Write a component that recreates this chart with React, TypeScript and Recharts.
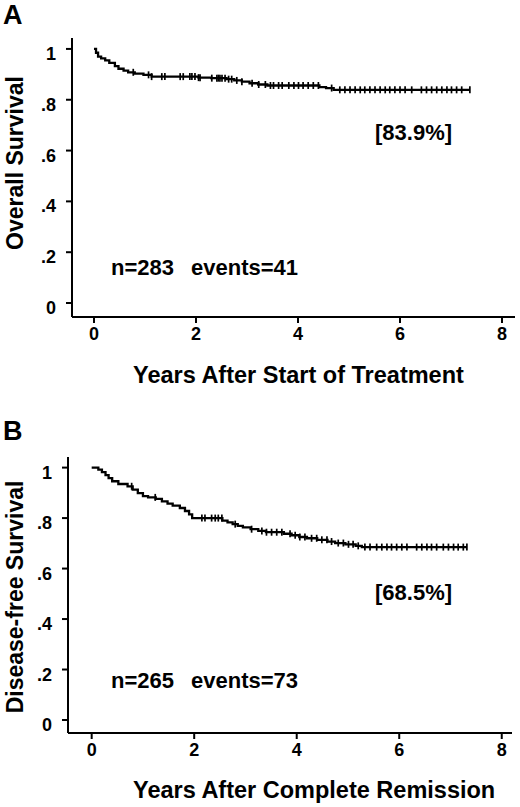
import { ComposedChart, Line, Scatter, XAxis, YAxis } from 'recharts'

// Panel A: overall survival (Kaplan-Meier steps)
const osTimes = [0, 0.04, 0.08, 0.14, 0.22, 0.3, 0.41, 0.48, 0.58, 0.67, 0.8, 0.97, 1.13, 2.05, 2.3, 2.6, 2.75, 2.9, 3.05, 3.22, 3.4, 4.42, 4.55, 4.7, 7.37]
const osSurv = [1.0, 0.985, 0.97, 0.963, 0.955, 0.945, 0.932, 0.922, 0.915, 0.908, 0.903, 0.898, 0.891, 0.887, 0.885, 0.881, 0.876, 0.871, 0.865, 0.86, 0.856, 0.85, 0.846, 0.839, 0.839]
const osCensored = [0.77, 1.07, 1.13, 1.33, 1.39, 1.69, 1.75, 1.88, 1.92, 1.98, 2.05, 2.08, 2.31, 2.41, 2.44, 2.47, 2.51, 2.57, 2.64, 2.7, 2.8, 2.9, 3.1, 3.23, 3.36, 3.46, 3.52, 3.62, 3.69, 3.82, 3.92, 4.01, 4.1, 4.2, 4.3, 4.4, 4.66, 4.82, 4.92, 5.02, 5.12, 5.22, 5.31, 5.41, 5.51, 5.61, 5.71, 5.8, 5.9, 6.0, 6.1, 6.23, 6.42, 6.52, 6.62, 6.72, 6.82, 6.92, 7.01, 7.11, 7.21, 7.37]

// Panel B: disease-free survival
const dfsTimes = [0, 0.13, 0.2, 0.27, 0.33, 0.4, 0.52, 0.7, 0.8, 0.9, 1.0, 1.1, 1.25, 1.37, 1.48, 1.58, 1.72, 1.82, 1.9, 1.96, 2.55, 2.65, 2.75, 2.85, 2.95, 3.1, 3.25, 3.4, 3.75, 3.9, 4.05, 4.2, 4.4, 4.6, 4.75, 4.95, 5.15, 5.27, 7.32]
const dfsSurv = [1.0, 0.992, 0.982, 0.97, 0.958, 0.946, 0.935, 0.926, 0.913, 0.899, 0.887, 0.882, 0.876, 0.866, 0.857, 0.849, 0.84, 0.828, 0.815, 0.8, 0.79, 0.783, 0.776, 0.769, 0.763, 0.756, 0.749, 0.744, 0.738, 0.732, 0.725, 0.72, 0.714, 0.707, 0.701, 0.696, 0.69, 0.685, 0.685]
const dfsCensored = [0.78, 1.24, 2.15, 2.21, 2.34, 2.41, 2.47, 2.54, 2.8, 3.12, 3.32, 3.41, 3.51, 3.61, 3.71, 3.87, 3.97, 4.06, 4.16, 4.29, 4.39, 4.49, 4.59, 4.68, 4.81, 4.91, 5.01, 5.1, 5.2, 5.33, 5.43, 5.56, 5.66, 5.76, 5.85, 5.95, 6.05, 6.15, 6.34, 6.44, 6.54, 6.63, 6.73, 6.86, 6.96, 7.06, 7.15, 7.25, 7.32]

const xTicks = [0, 2, 4, 6, 8]
const yTicks = [0, 0.2, 0.4, 0.6, 0.8, 1]

const FONT = '"Liberation Sans", Arial, Helvetica, sans-serif'

const toSteps = (times: number[], surv: number[]) => times.map((t, i) => ({ t, s: surv[i] }))

// survival value at a censoring time = last step at or before it
const toCensor = (cens: number[], times: number[], surv: number[]) =>
  cens.map((c) => {
    let s = surv[0]
    times.forEach((t, i) => {
      if (t <= c) s = surv[i]
    })
    return { t: c, s }
  })

const fmtY = (v: number) => (v === 0 ? '0' : v === 1 ? '1' : String(v).replace(/^0/, ''))

const XTick = ({ x, y, payload }: any) => (
  <text x={x} y={y + 15} textAnchor="middle" fontSize={18} fontWeight="bold" fill="#000" fontFamily={FONT}>
    {payload.value}
  </text>
)

const YTick = ({ x, y, payload }: any) => (
  <text x={x - 8} y={y + 11} textAnchor="end" fontSize={18} fontWeight="bold" fill="#000" fontFamily={FONT}>
    {fmtY(payload.value)}
  </text>
)

const CensorMark = ({ cx, cy }: any) => (
  <line x1={cx} x2={cx} y1={cy - 3.5} y2={cy + 3.5} stroke="#000" strokeWidth={1.7} />
)

interface KMPanelProps {
  steps: Array<{ t: number; s: number }>
  censor: Array<{ t: number; s: number }>
  height: number
  margin: { top: number; right: number; bottom: number; left: number }
  yAxisWidth: number
  xAxisHeight: number
  xDomain: [number, number]
  yDomain: [number, number]
}

function KMPanel({ steps, censor, height, margin, yAxisWidth, xAxisHeight, xDomain, yDomain }: KMPanelProps) {
  return (
    <ComposedChart width={520} height={height} margin={margin}>
      <XAxis
        type="number"
        dataKey="t"
        domain={xDomain}
        ticks={xTicks}
        allowDataOverflow
        height={xAxisHeight}
        axisLine={{ stroke: '#000', strokeWidth: 2 }}
        tickLine={{ stroke: '#000', strokeWidth: 2 }}
        tickSize={6}
        tick={<XTick />}
      />
      <YAxis
        type="number"
        dataKey="s"
        domain={yDomain}
        ticks={yTicks}
        allowDataOverflow
        width={yAxisWidth}
        axisLine={{ stroke: '#000', strokeWidth: 2 }}
        tickLine={{ stroke: '#000', strokeWidth: 2 }}
        tickSize={6}
        tick={<YTick />}
      />
      <Line
        data={steps}
        dataKey="s"
        type="stepAfter"
        stroke="#000"
        strokeWidth={2.3}
        dot={false}
        activeDot={false}
        isAnimationActive={false}
      />
      <Scatter data={censor} dataKey="s" shape={<CensorMark />} isAnimationActive={false} />
    </ComposedChart>
  )
}

export default function App() {
  const osSteps = toSteps(osTimes, osSurv)
  const dfsSteps = toSteps(dfsTimes, dfsSurv)
  const osCens = toCensor(osCensored, osTimes, osSurv)
  const dfsCens = toCensor(dfsCensored, dfsTimes, dfsSurv)

  const title = { fontFamily: FONT, fontWeight: 'bold' as const, fill: '#000' }

  return (
    <div style={{ position: 'absolute', left: 0, top: 0, width: 520, height: 807, background: '#fff' }}>
      <div style={{ position: 'absolute', left: 0, top: 0 }}>
        <KMPanel
          steps={osSteps}
          censor={osCens}
          height={400}
          margin={{ top: 38, right: 5, bottom: 0, left: 0 }}
          yAxisWidth={72}
          xAxisHeight={83}
          xDomain={[-0.431, 8.255]}
          yDomain={[-0.055, 1.043]}
        />
      </div>
      <div style={{ position: 'absolute', left: 0, top: 400 }}>
        <KMPanel
          steps={dfsSteps}
          censor={dfsCens}
          height={407}
          margin={{ top: 57, right: 8, bottom: 0, left: 0 }}
          yAxisWidth={68}
          xAxisHeight={74}
          xDomain={[-0.462, 8.2]}
          yDomain={[-0.0515, 1.042]}
        />
      </div>
      <svg width={520} height={807} style={{ position: 'absolute', left: 0, top: 0, pointerEvents: 'none' }}>
        <text x={3} y={24} fontSize={27} {...title}>A</text>
        <text x={3} y={440} fontSize={27} {...title}>B</text>

        <text transform="translate(22.5,163) rotate(-90)" textAnchor="middle" fontSize={23} {...title}>
          Overall Survival
        </text>
        <text transform="translate(23,597) rotate(-90)" textAnchor="middle" fontSize={23} {...title}>
          Disease-free Survival
        </text>

        <text x={133} y={383} fontSize={23.5} {...title}>Years After Start of Treatment</text>
        <text x={133} y={798} fontSize={23.5} {...title}>Years After Complete Remission</text>

        <text x={375} y={140} fontSize={22} {...title}>[83.9%]</text>
        <text x={375} y={600} fontSize={22} {...title}>[68.5%]</text>

        <text x={111} y={275} fontSize={22} {...title}>n=283</text>
        <text x={191} y={275} fontSize={22} {...title}>events=41</text>
        <text x={111} y={688} fontSize={22} {...title}>n=265</text>
        <text x={191} y={688} fontSize={22} {...title}>events=73</text>
      </svg>
    </div>
  )
}
